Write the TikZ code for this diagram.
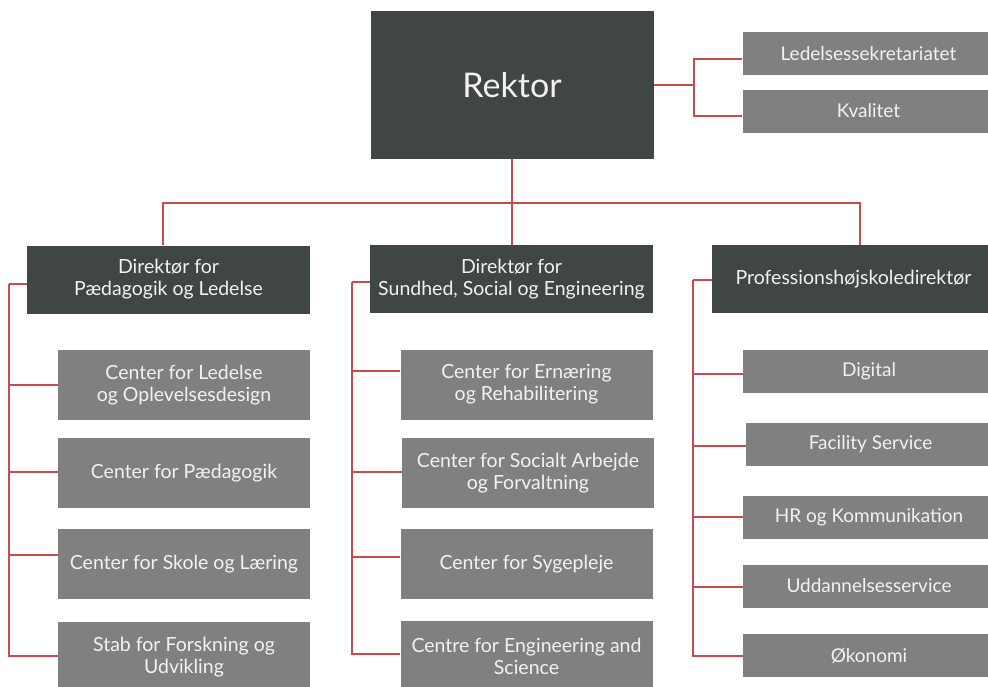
\documentclass[tikz,border=0pt]{standalone}
\usepackage{fontspec}
\setmainfont{Lato}
\definecolor{darkbox}{HTML}{404545}
\definecolor{graybox}{HTML}{808080}
\definecolor{redline}{HTML}{CC4A4E}
\definecolor{boxtext}{HTML}{F2F2F2}
\begin{document}
\begin{tikzpicture}[x=1pt,y=-1pt,
  base/.style={rectangle, inner sep=0pt, text=boxtext, align=center, font=\fontsize{19.5}{22}\selectfont},
  topbox/.style={base, fill=darkbox, minimum width=283pt, minimum height=148pt, font=\fontsize{34}{38}\selectfont},
  dirbox/.style={base, fill=darkbox, minimum width=283pt, minimum height=68pt},
  unitbox/.style={base, fill=graybox, minimum width=252pt, minimum height=70pt},
  smallbox/.style={base, fill=graybox, minimum width=252pt, minimum height=43pt, font=\fontsize{19}{22}\selectfont},
  link/.style={draw=redline, line width=1.4pt}]
\useasboundingbox (0,0) rectangle (988,686);
\clip (0,0) rectangle (988,686);

\node[topbox] (rektor) at (512,85) {Rektor};
\node[smallbox] (led) at (868.5,53.5) {Ledelsessekretariatet};
\node[smallbox] (kval) at (868.5,111) {Kvalitet};

\node[dirbox] (d1) at (168.5,279.5) {Direktør for\\Pædagogik og Ledelse};
\node[dirbox] (d2) at (511.5,279) {Direktør for\\Sundhed, Social og Engineering};
\node[dirbox] (d3) at (853.5,279) {Professionshøjskoledirektør};

\node[unitbox] (c11) at (184,385) {Center for Ledelse\\og Oplevelsesdesign};
\node[unitbox] (c12) at (184,473) {Center for Pædagogik};
\node[unitbox] (c13) at (184,564) {Center for Skole og Læring};
\node[unitbox] (c14) at (184,657) {Stab for Forskning og\\Udvikling};

\node[unitbox] (c21) at (526.5,384.5) {Center for Ernæring\\og Rehabilitering};
\node[unitbox] (c22) at (528,473) {Center for Socialt Arbejde\\og Forvaltning};
\node[unitbox] (c23) at (526.5,564) {Center for Sygepleje};
\node[unitbox] (c24) at (526.5,656) {Centre for Engineering and\\Science};

\node[smallbox] (c31) at (869,371.5) {Digital};
\node[smallbox, minimum width=249pt] (c32) at (870.5,444.5) {Facility Service};
\node[smallbox] (c33) at (869,517.5) {HR og Kommunikation};
\node[smallbox] (c34) at (869,586) {Uddannelsesservice};
\node[smallbox] (c35) at (869,655.5) {Økonomi};

% staff links
\coordinate (sj) at (694,85);
\draw[link] (rektor.east) -- (sj);
\draw[link] (sj) |- ([yshift=-5.5pt]led.west);
\draw[link] (sj) |- ([yshift=-5pt]kval.west);

% director bus
\coordinate (bus) at (512,203);
\draw[link] (rektor.south) -- (bus);
\draw[link] (bus) -| ([xshift=-5.5pt]d1.north);
\draw[link] (bus) -| ([xshift=6.5pt]d3.north);
\draw[link] (bus) -- ([xshift=0.5pt]d2.north);

% column 1
\coordinate (v1) at (9,284);
\draw[link] ([yshift=-4.5pt]d1.west) -- (v1);
\draw[link] (v1) |- (c11.west);
\draw[link] (v1) |- ([yshift=1pt]c12.west);
\draw[link] (v1) |- ([yshift=9pt]c13.west);
\draw[link] (v1) |- ([yshift=1pt]c14.west);

% column 2
\coordinate (v2) at (352,282);
\draw[link] ([yshift=-3pt]d2.west) -- (v2);
\draw[link] (v2) |- ([yshift=13.5pt]c21.west);
\draw[link] (v2) |- ([yshift=1pt]c22.west);
\draw[link] (v2) |- ([yshift=7pt]c23.west);
\draw[link] (v2) |- ([yshift=2pt]c24.west);

% column 3
\coordinate (v3) at (693,280);
\draw[link] ([yshift=-1pt]d3.west) -- (v3);
\draw[link] (v3) |- ([yshift=-2.5pt]c31.west);
\draw[link] (v3) |- ([yshift=-1.5pt]c32.west);
\draw[link] (v3) |- ([yshift=0.5pt]c33.west);
\draw[link] (v3) |- ([yshift=-1pt]c34.west);
\draw[link] (v3) |- ([yshift=-0.5pt]c35.west);
\end{tikzpicture}
\end{document}
